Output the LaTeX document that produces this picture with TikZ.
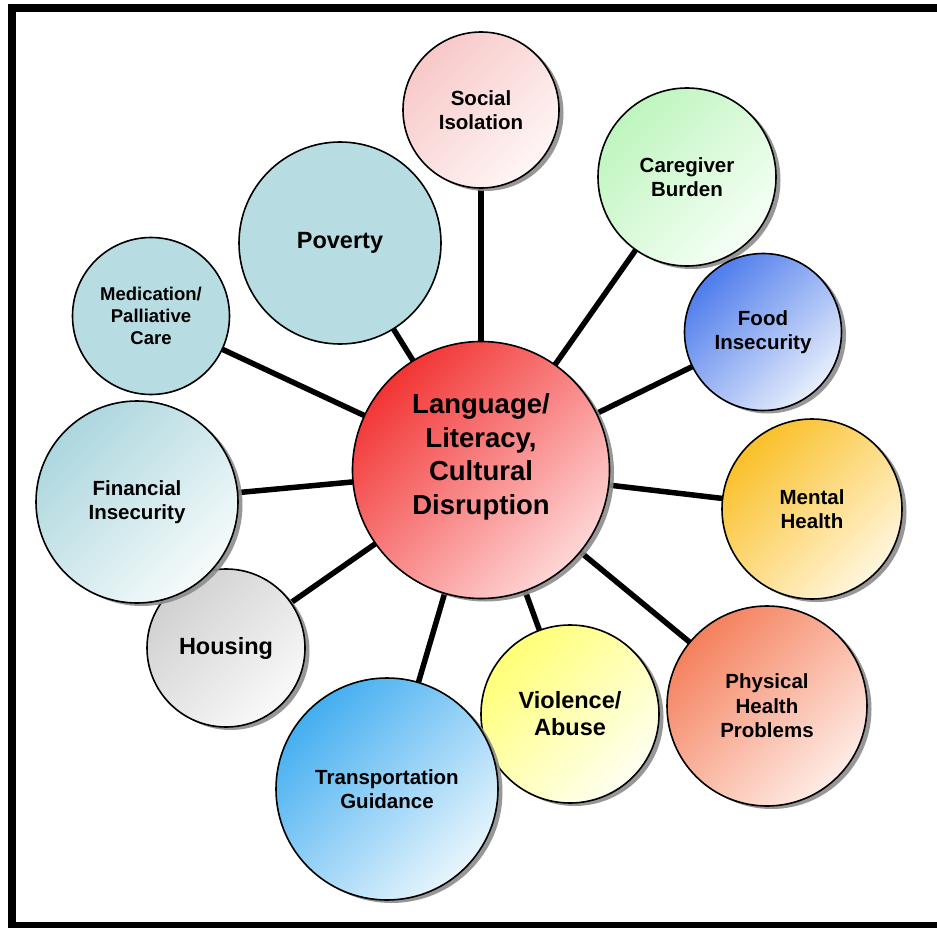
\documentclass[tikz,border=0pt]{standalone}
\usepackage{fontspec}
\setmainfont{Liberation Sans}
\usetikzlibrary{shadows,backgrounds}
\definecolor{cenA}{RGB}{242,52,52}
\definecolor{cenB}{RGB}{255,214,214}
\definecolor{socA}{RGB}{248,200,200}
\definecolor{socB}{RGB}{255,246,246}
\definecolor{carA}{RGB}{190,245,190}
\definecolor{carB}{RGB}{246,255,246}
\definecolor{fooA}{RGB}{78,124,236}
\definecolor{fooB}{RGB}{232,239,252}
\definecolor{menA}{RGB}{250,192,40}
\definecolor{menB}{RGB}{255,246,222}
\definecolor{phyA}{RGB}{244,128,92}
\definecolor{phyB}{RGB}{255,236,230}
\definecolor{vioA}{RGB}{255,255,118}
\definecolor{vioB}{RGB}{255,255,242}
\definecolor{traA}{RGB}{68,174,240}
\definecolor{traB}{RGB}{232,245,253}
\definecolor{houA}{RGB}{208,208,208}
\definecolor{houB}{RGB}{249,249,249}
\definecolor{finA}{RGB}{172,214,222}
\definecolor{finB}{RGB}{246,251,251}
\definecolor{teal}{RGB}{183,220,226}
\begin{document}
\begin{tikzpicture}[x=1pt,y=-1pt,
  bub/.style={circle, draw=black, line width=1.6pt, inner sep=0pt, align=center,
    font=\bfseries\fontsize{20.5}{24.5}\selectfont},
  big/.style={font=\bfseries\fontsize{23.5}{27}\selectfont},
  small/.style={font=\bfseries\fontsize{18.5}{22}\selectfont},
  shd/.style={drop shadow={shadow xshift=4.5pt, shadow yshift=-3pt, fill=black!45, opacity=0.9}},
  grad/.style 2 args={top color=#1, bottom color=#2, shading angle=45},
  spoke/.style={line width=5.5pt, black}]
\useasboundingbox (0,0) rectangle (937,928);
% central
\node[bub, shd, grad={cenA}{cenB}, minimum size=257pt] (c) at (481,470) {};
\node[align=center, inner sep=0pt, font=\bfseries\fontsize{27.5}{33.5}\selectfont] (ctxt) at (481,457) {Language/\\Literacy,\\Cultural\\Disruption};
% satellites
\node[bub, shd, grad={socA}{socB}, minimum size=156pt] (soc) at (481,110) {Social\\Isolation};
\node[bub, shd, grad={carA}{carB}, minimum size=178pt] (car) at (687,177) {Caregiver\\Burden};
\node[bub, shd, grad={fooA}{fooB}, minimum size=157pt] (foo) at (763,332) {Food\\Insecurity};
\node[bub, shd, grad={menA}{menB}, minimum size=180pt] (men) at (812,509) {Mental\\Health};
\node[bub, shd, grad={phyA}{phyB}, minimum size=200pt] (phy) at (767,706) {Physical\\Health\\Problems};
\node[bub, big, shd, grad={vioA}{vioB}, minimum size=178pt] (vio) at (570,714) {Violence/\\Abuse};
\node[bub, shd, grad={traA}{traB}, minimum size=222pt] (tra) at (387,789) {Transportation\\Guidance};
\node[bub, big, shd, grad={houA}{houB}, minimum size=158pt] (hou) at (226,648) {Housing};
\node[bub, shd, grad={finA}{finB}, minimum size=202pt] (fin) at (137,502) {Financial\\Insecurity};
\node[bub, small, fill=teal, minimum size=157pt] (med) at (151,316) {Medication/\\Palliative\\Care};
\node[bub, big, fill=teal, minimum size=202pt] (pov) at (340,243) {Poverty};
% spokes
\begin{scope}[on background layer]
\fill[white] (0,0) rectangle (937,928);
\foreach \s in {soc,car,foo,men,phy,vio,tra,hou,fin,med,pov}
  \draw[spoke] (c.center) -- (\s.center);
\end{scope}
% frame
\fill[black] (8,4) rectangle (937,12);
\fill[black] (8,4) rectangle (16,928);
\fill[black] (8,922) rectangle (937,928);
\end{tikzpicture}
\end{document}
